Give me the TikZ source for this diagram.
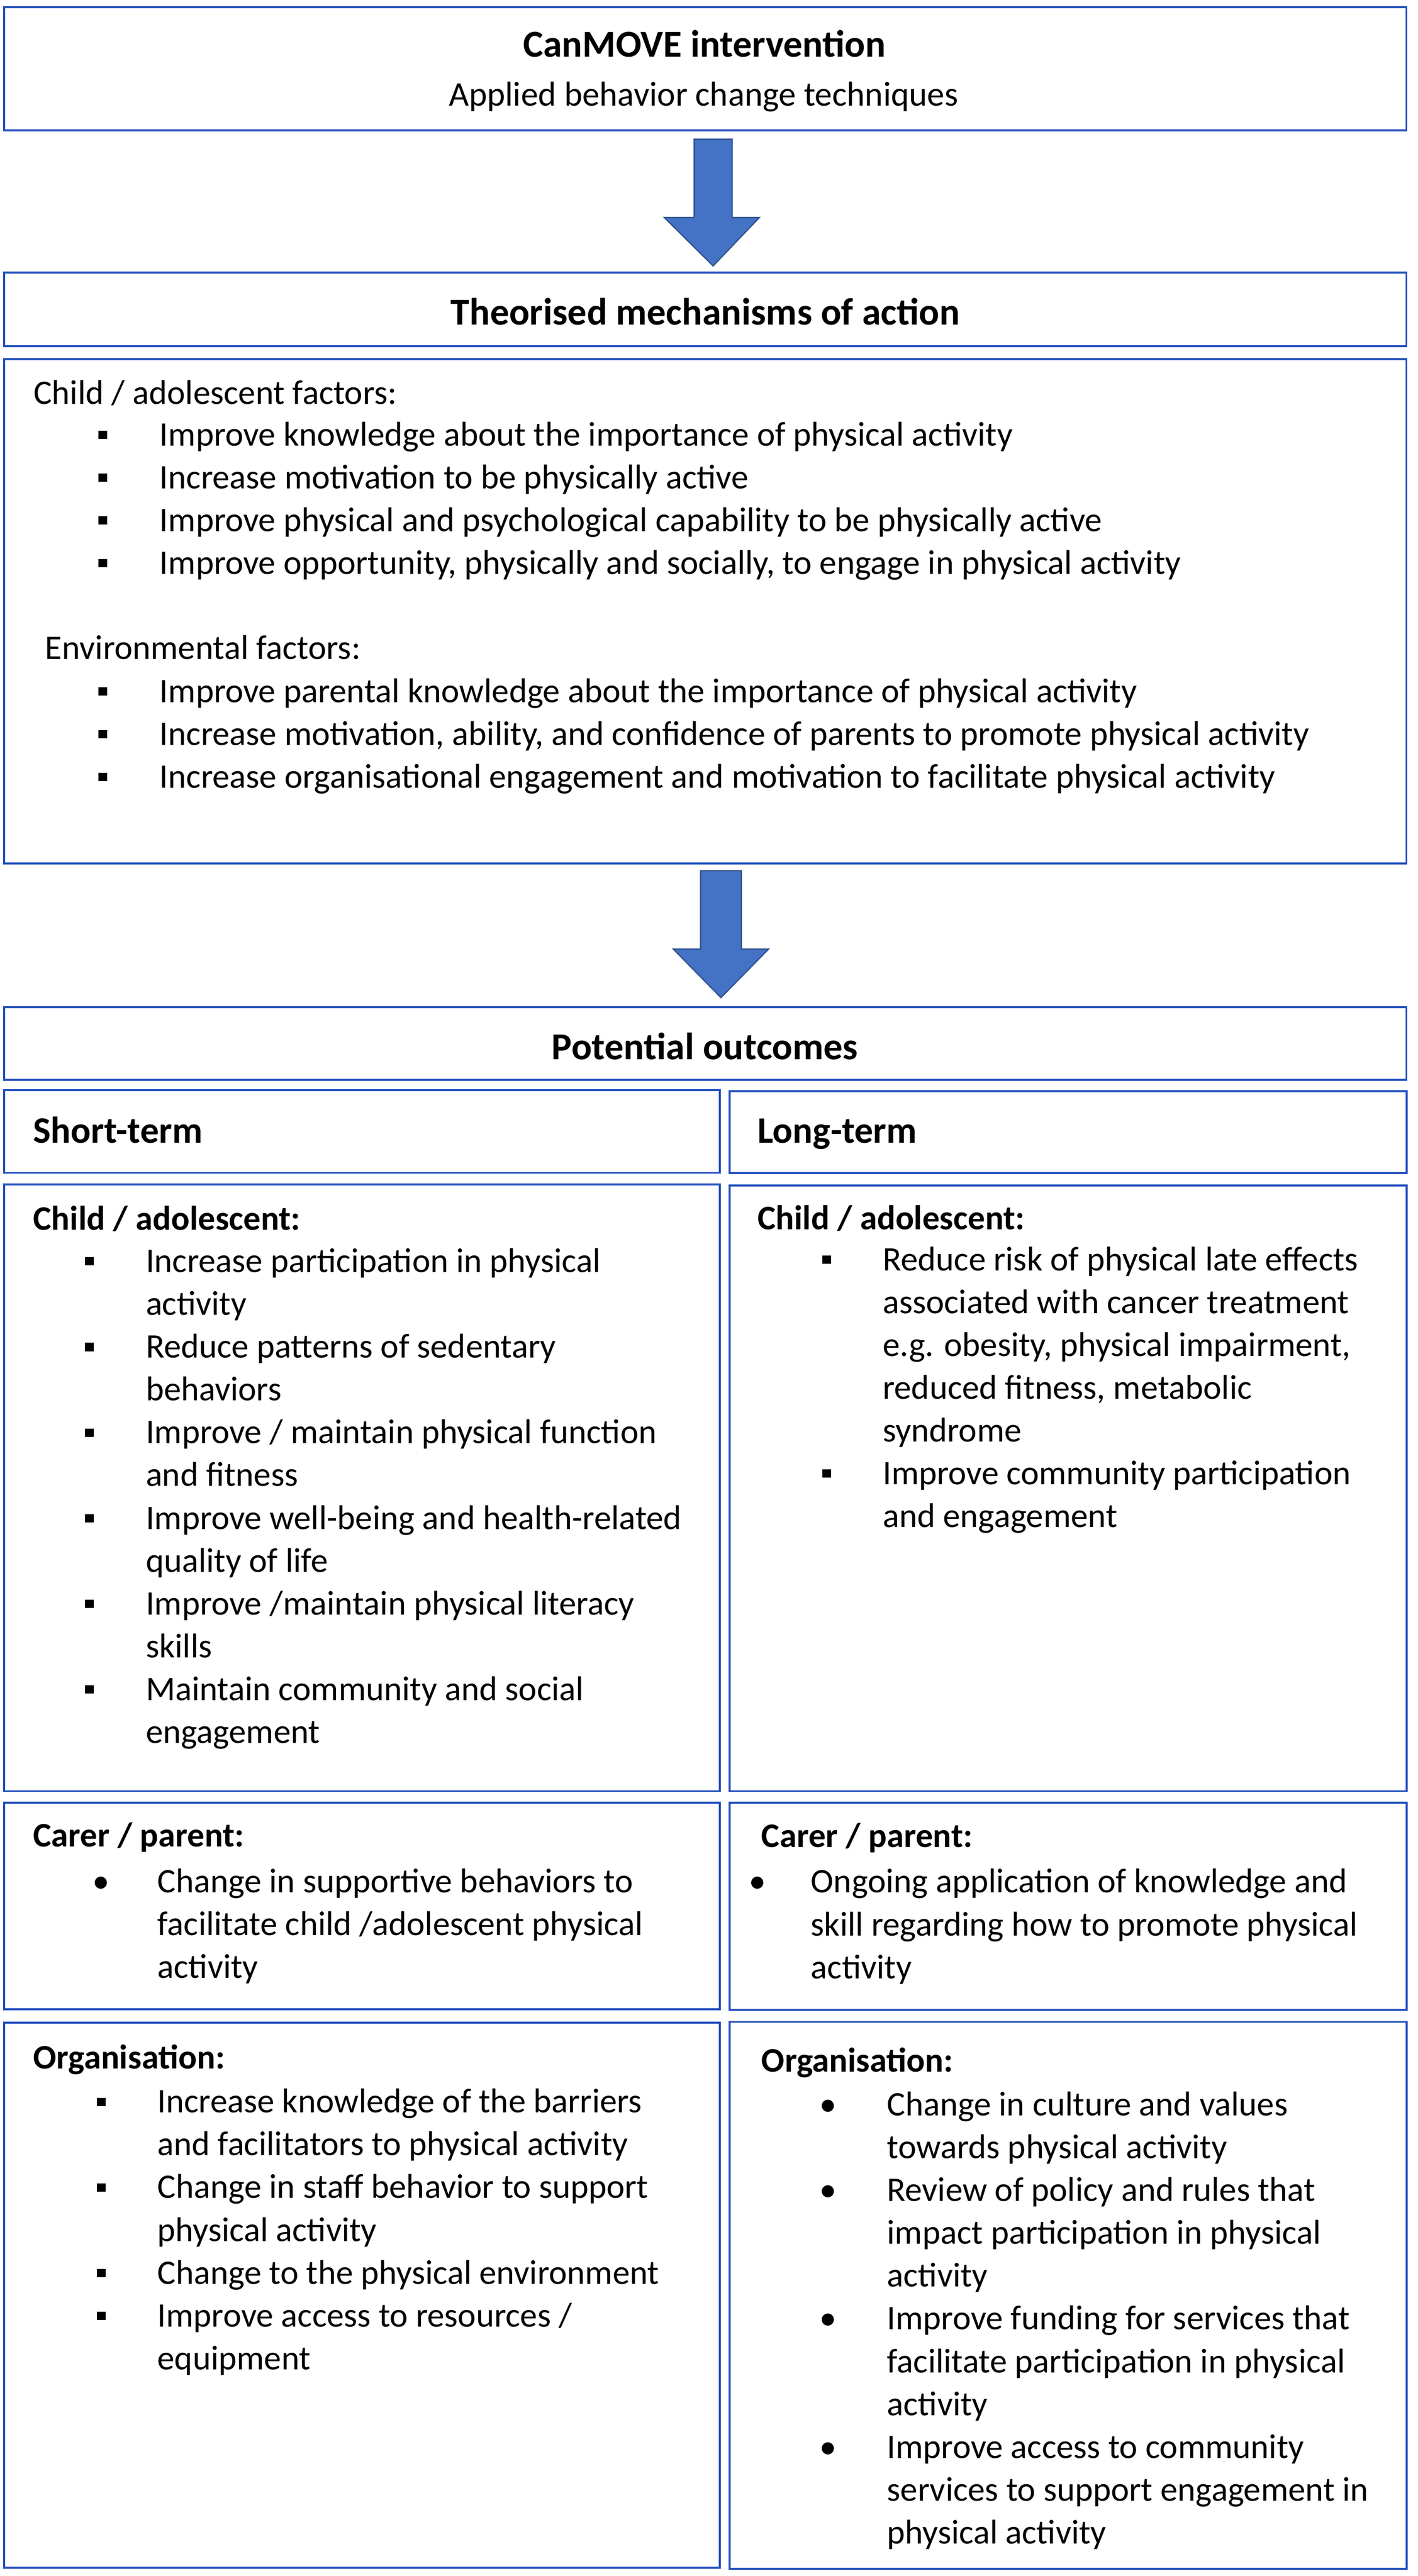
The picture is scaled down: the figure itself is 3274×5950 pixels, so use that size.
\documentclass[tikz,border=0pt]{standalone}
\usepackage{fontspec}
\setmainfont{Carlito}
\usetikzlibrary{fit}
\definecolor{boxblue}{RGB}{35,80,190}
\definecolor{arrowblue}{RGB}{68,114,196}
\definecolor{arrowedge}{RGB}{47,82,143}
\newcommand{\sqb}{\makebox[0pt]{\rule[0.2em]{0.26em}{0.24em}}}
\newcommand{\rdb}{\makebox[0pt]{•}}
\newcommand{\blist}[2]{\begin{tabular}[t]{@{}p{#1}@{}l@{}}#2\end{tabular}}

\begin{document}
\begin{tikzpicture}[x=0.01cm,y=-0.01cm,
  box/.style={draw=boxblue,line width=1.3pt,inner sep=0pt,fit={#1}},
  txt/.style={inner sep=0pt,anchor=base west,font=\fontsize{22.6}{28.1}\selectfont},
  head/.style={txt,font=\fontsize{22.6}{28.1}\selectfont\bfseries},
  term/.style={txt,font=\fontsize{24.5}{29}\selectfont\bfseries},
  title/.style={inner sep=0pt,anchor=base,font=\fontsize{25}{30}\selectfont\bfseries},
  blockarrow/.style={fill=arrowblue,draw=arrowedge,line width=0.8pt}]
  \useasboundingbox (0,0) rectangle (3274,5950);
  % \draw[help lines] (0,0) grid (3274,5950);
  \node[box={(10,17) (3248,301)}] (intervention) {};
  \node[box={(10,629) (3248,800)}] (theory) {};
  \node[box={(10,829) (3248,1994)}] (mechanisms) {};
  \node[box={(10,2326) (3248,2494)}] (outcomes) {};
  \node[box={(10,2518) (1662,2709)}] (shortterm) {};
  \node[box={(1685,2520) (3249,2710)}] (longterm) {};
  \node[box={(10,2736) (1662,4137)}] (shortchild) {};
  \node[box={(1685,2738) (3249,4137)}] (longchild) {};
  \node[box={(10,4164) (1662,4641)}] (shortcarer) {};
  \node[box={(1685,4164) (3249,4642)}] (longcarer) {};
  \node[box={(10,4672) (1662,5931)}] (shortorg) {};
  \node[box={(1685,4670) (3249,5933)}] (longorg) {};

  % block arrows between the boxes
  \path (intervention.south) ++(18,18) coordinate (arrowone);
  \path (mechanisms.south) ++(36,15) coordinate (arrowtwo);
  \draw[blockarrow] (arrowone) ++(-44,0) -- ++(88,0) -- ++(0,181) -- ++(63,0)
        -- ++(-107,112) -- ++(-113,-112) -- ++(69,0) -- cycle;
  \draw[blockarrow] (arrowtwo) ++(-47,0) -- ++(94,0) -- ++(0,181) -- ++(63,0)
        -- ++(-110,112) -- ++(-110,-112) -- ++(63,0) -- cycle;

  \node[title] (intertitle) at (1627,132) {CanMOVE intervention};
  \node[inner sep=0pt,anchor=base,font=\fontsize{22.7}{28}\selectfont] (intersub) at (1625,245)
       {Applied behavior change techniques};
  \node[title] (theorytitle) at (1629,750) {Theorised mechanisms of action};

  \node[txt] (childfactors) at (77,934) {Child / adolescent factors:};
  \node[txt] (childlist) at (237,1030) {\blist{1.31cm}{
    \sqb & Improve knowledge about the importance of physical activity\\
    \sqb & Increase motivation to be physically active\\
    \sqb & Improve physical and psychological capability to be physically active\\
    \sqb & Improve opportunity, physically and socially, to engage in physical activity}};
  \node[txt] (envfactors) at (104,1522) {Environmental factors:};
  \node[txt] (envlist) at (237,1622) {\blist{1.31cm}{
    \sqb & Improve parental knowledge about the importance of physical activity\\
    \sqb & Increase motivation, ability, and confidence of parents to promote physical activity\\
    \sqb & Increase organisational engagement and motivation to facilitate physical activity}};

  \node[title] (outtitle) at (1628,2447) {Potential outcomes};
  \node[term] (shorthead) at (76,2640) {Short-term};
  \node[term] (longhead) at (1749,2640) {Long-term};

  % short-term column
  \node[head] (shortchildhead) at (76,2841) {Child / adolescent:};
  \node[txt] (shortchildlist) at (206,2939) {\blist{1.30cm}{
    \sqb & Increase participation in physical\\
         & activity\\
    \sqb & Reduce patterns of sedentary\\
         & behaviors\\
    \sqb & Improve / maintain physical function\\
         & and fitness\\
    \sqb & Improve well-being and health-related\\
         & quality of life\\
    \sqb & Improve /maintain physical literacy\\
         & skills\\
    \sqb & Maintain community and social\\
         & engagement}};
  \node[head] (shortcarerhead) at (76,4266) {Carer / parent:};
  \node[txt] (shortcarerlist) at (233,4371) {\blist{1.30cm}{
    \rdb & Change in supportive behaviors to\\
         & facilitate child /adolescent physical\\
         & activity}};
  \node[head] (shortorghead) at (76,4778) {Organisation:};
  \node[txt] (shortorglist) at (233,4880) {\blist{1.30cm}{
    \sqb & Increase knowledge of the barriers\\
         & and facilitators to physical activity\\
    \sqb & Change in staff behavior to support\\
         & physical activity\\
    \sqb & Change to the physical environment\\
    \sqb & Improve access to resources /\\
         & equipment}};

  % long-term column
  \node[head] (longchildhead) at (1749,2840) {Child / adolescent:};
  \node[txt] (longchildlist) at (1909,2935) {\blist{1.29cm}{
    \sqb & Reduce risk of physical late effects\\
         & associated with cancer treatment\\
         & e.g. obesity, physical impairment,\\
         & reduced fitness, metabolic\\
         & syndrome\\
    \sqb & Improve community participation\\
         & and engagement}};
  \node[head] (longcarerhead) at (1758,4267) {Carer / parent:};
  \node[txt] (longcarerlist) at (1749,4372) {\blist{1.23cm}{
    \rdb & Ongoing application of knowledge and\\
         & skill regarding how to promote physical\\
         & activity}};
  \node[head] (longorghead) at (1758,4785) {Organisation:};
  \node[txt] (longorglist) at (1912,4887) {\blist{1.36cm}{
    \rdb & Change in culture and values\\
         & towards physical activity\\
    \rdb & Review of policy and rules that\\
         & impact participation in physical\\
         & activity\\
    \rdb & Improve funding for services that\\
         & facilitate participation in physical\\
         & activity\\
    \rdb & Improve access to community\\
         & services to support engagement in\\
         & physical activity}};
\end{tikzpicture}
\end{document}
